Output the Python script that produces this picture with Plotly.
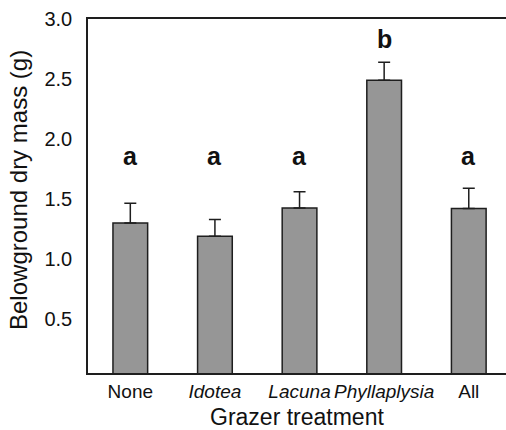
import plotly.graph_objects as go

categories = ["None", "<i>Idotea</i>", "<i>Lacuna</i>", "<i>Phyllaplysia</i>", "All"]
means = [1.30, 1.19, 1.425, 2.49, 1.42]
errors = [0.165, 0.14, 0.135, 0.15, 0.17]
letters = ["a", "a", "a", "b", "a"]
letter_y = [1.86, 1.86, 1.86, 2.83, 1.86]
ytick_vals = [0.5, 1.0, 1.5, 2.0, 2.5, 3.0]
ytick_text = ["0.5", "1.0", "1.5", "2.0", "2.5", "3.0"]

FONT = "Liberation Sans, Arial, Helvetica, sans-serif"
DARK = "#1e1e1e"

xs = list(range(len(categories)))

fig = go.Figure()
fig.add_trace(go.Bar(
    x=xs, y=means, width=0.41,
    marker=dict(color="#969696", line=dict(color=DARK, width=1.5)),
    error_y=dict(type="data", symmetric=False, array=errors,
                 arrayminus=[0] * len(errors), color=DARK, thickness=1.5, width=6),
    showlegend=False,
))

for x, t, ly in zip(xs, letters, letter_y):
    fig.add_annotation(x=x, y=ly, text="<b>" + t + "</b>", showarrow=False,
                       font=dict(family=FONT, size=25, color="#111"),
                       xanchor="center", yanchor="middle")

fig.add_annotation(xref="paper", yref="paper", x=0, y=0.517, xshift=-69,
                   text="Belowground dry mass (g)", textangle=-90, showarrow=False,
                   font=dict(family=FONT, size=24, color="#111"),
                   xanchor="center", yanchor="middle")
fig.add_annotation(xref="paper", yref="paper", x=0.5, y=0, yshift=-44,
                   text="Grazer treatment", showarrow=False,
                   font=dict(family=FONT, size=23, color="#111"),
                   xanchor="center", yanchor="middle")

fig.update_layout(
    width=506, height=430,
    margin=dict(l=88, r=0, t=19, b=57, autoexpand=False),
    paper_bgcolor="white", plot_bgcolor="white",
    font=dict(family=FONT, color="#111"),
    xaxis=dict(range=[-0.5, 4.44], tickvals=xs, ticktext=categories,
               tickangle=0, automargin=False,
               showline=True, mirror=True, linecolor=DARK, linewidth=1.5,
               ticks="", showgrid=False, zeroline=False,
               tickfont=dict(size=19, family=FONT, color="#111")),
    yaxis=dict(range=[0.05, 3.0], tickvals=ytick_vals, ticktext=ytick_text,
               automargin=False,
               showline=True, mirror=False, linecolor=DARK, linewidth=1.5,
               ticks="", showgrid=False, zeroline=False, ticklabelstandoff=10,
               tickfont=dict(size=20, family=FONT, color="#111")),
)

fig.write_html("out.html")
